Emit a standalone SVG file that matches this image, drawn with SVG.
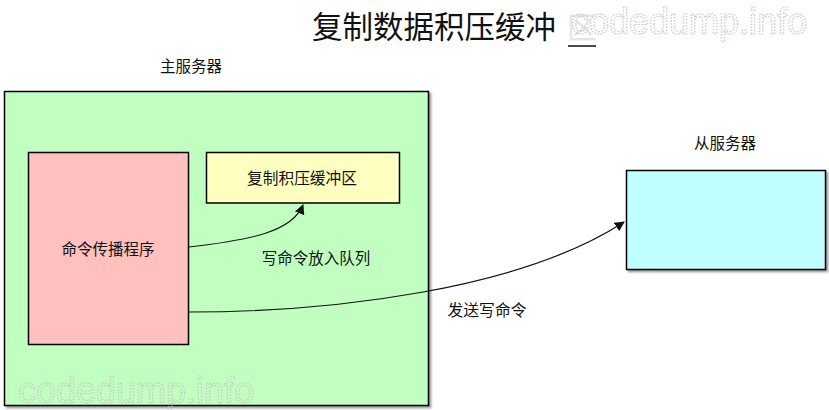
<svg xmlns="http://www.w3.org/2000/svg" width="829" height="410" viewBox="0 0 829 410">
<defs>
<style>
.t{font-family:"Noto Sans CJK SC","Liberation Sans",sans-serif;fill:#111}
.box{stroke:#000;stroke-width:1.5}
.wm{font-family:"Liberation Sans",sans-serif;fill:none;stroke:#c8c8c8;stroke-width:1.2;stroke-dasharray:1.5 1.5}
.edge{fill:none;stroke:#111;stroke-width:1.2}
</style>
<filter id="sh" x="-5%" y="-5%" width="115%" height="115%">
<feGaussianBlur in="SourceAlpha" stdDeviation="1.2"/>
<feOffset dx="2" dy="2" result="b"/>
<feComponentTransfer><feFuncA type="linear" slope="0.4"/></feComponentTransfer>
<feMerge><feMergeNode/><feMergeNode in="SourceGraphic"/></feMerge>
</filter>
<marker id="ah" viewBox="0 0 10 10" refX="9" refY="5" markerWidth="10" markerHeight="10" markerUnits="userSpaceOnUse" orient="auto">
<path d="M0,0 L10,5 L0,10 z" fill="#111"/>
</marker>
</defs>
<rect width="829" height="410" fill="#fff"/>
<g id="title">
<text class="t" x="312" y="38" font-size="30.5">复制数据积压缓冲</text>
<text x="567" y="38" font-size="30" font-family="Noto Sans CJK SC,sans-serif" fill="#e4e4e4">区</text>
<line x1="568" y1="46" x2="596" y2="46" stroke="#111" stroke-width="1.5"/>
</g>
<g id="master">
<rect class="box" x="4.5" y="91.5" width="424" height="314" fill="#c0ffc0" filter="url(#sh)"/>
<text class="t" x="191" y="72" font-size="15.5" text-anchor="middle">主服务器</text>
</g>
<g id="propagate">
<rect class="box" x="28.5" y="152.5" width="160" height="192" fill="#ffc0c0"/>
<text class="t" x="108" y="255" font-size="15.5" text-anchor="middle">命令传播程序</text>
</g>
<g id="backlog">
<rect class="box" x="206.5" y="152.5" width="193" height="50.5" fill="#ffffc0"/>
<text class="t" x="302" y="184" font-size="15.7" text-anchor="middle">复制积压缓冲区</text>
</g>
<g id="slave">
<rect class="box" x="626.5" y="170.5" width="199" height="99" fill="#c0ffff" filter="url(#sh)"/>
<text class="t" x="725" y="149" font-size="15.5" text-anchor="middle">从服务器</text>
</g>
<g id="connectors">
<path class="edge" d="M189,247 C250,240 292,232 303,205" marker-end="url(#ah)"/>
<path class="edge" d="M189,312 C330,312 520,290 624,222" marker-end="url(#ah)"/>
<text class="t" x="316" y="264" font-size="15.5" text-anchor="middle">写命令放入队列</text>
<text class="t" x="487" y="316" font-size="15.8" text-anchor="middle">发送写命令</text>
</g>
<g id="watermarks">
<text class="wm" x="571" y="34" font-size="36">codedump.info</text>
<text class="wm" x="18" y="403" font-size="36">codedump.info</text>
</g>
</svg>
